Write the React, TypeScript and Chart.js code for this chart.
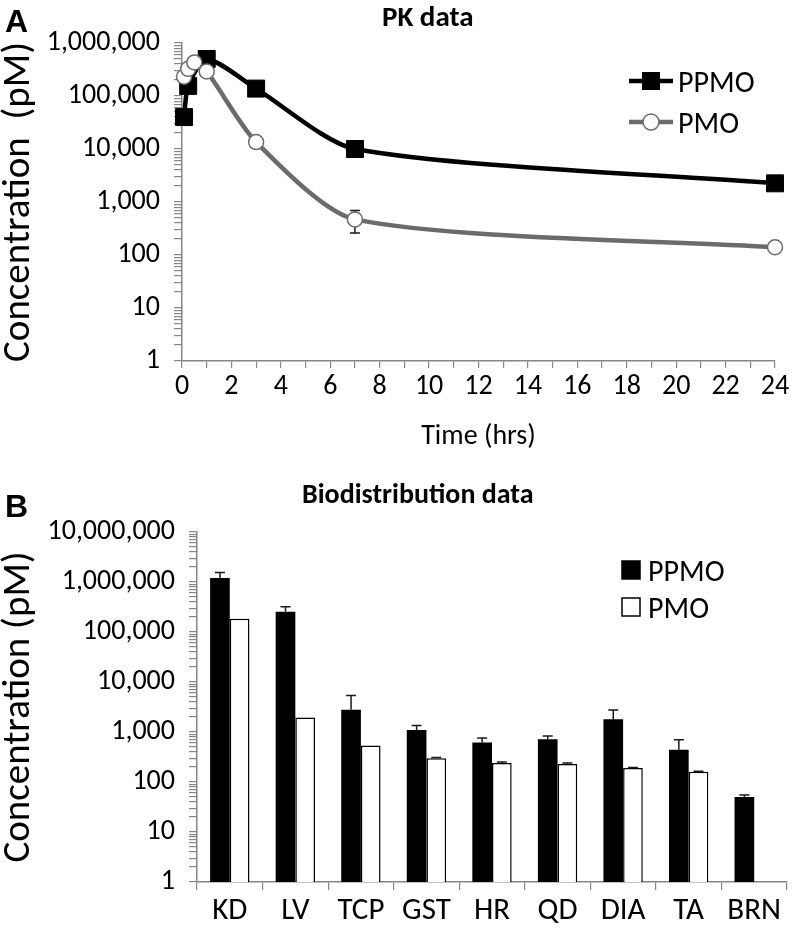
import React, { useEffect, useRef } from 'react';
import { Chart, registerables } from 'chart.js';

Chart.register(...registerables);

const FONT = 'Carlito, Lato, sans-serif';

// ---- Panel A: PK data ----
const ppmoTimes = [0.083, 0.25, 1, 3, 7, 24];
const ppmoConc = [40000, 155000, 500000, 138000, 10000, 2250];
const pmoTimes = [0.083, 0.25, 0.5, 1, 3, 7, 24];
const pmoConc = [232000, 325000, 430000, 290000, 13500, 470, 140];
const pmoErrHigh = [null, null, null, null, null, 690, null];
const pmoErrLow = [null, null, null, null, null, 260, null];
const pkDecades = [1, 10, 100, 1000, 10000, 100000, 1000000];
const timeTicks = [0, 2, 4, 6, 8, 10, 12, 14, 16, 18, 20, 22, 24];

// ---- Panel B: Biodistribution data ----
const tissues = ['KD', 'LV', 'TCP', 'GST', 'HR', 'QD', 'DIA', 'TA', 'BRN'];
const ppmoTissue = [1200000, 255000, 2800, 1100, 620, 720, 1800, 440, 50];
const ppmoTissueErr = [1550000, 320000, 5400, 1350, 760, 830, 2750, 700, 55];
const pmoTissue = [185000, 1950, 540, 300, 240, 230, 190, 160, null];
const pmoTissueErr = [null, null, null, 310, 250, 240, 195, 165, null];
const bioDecades = [1, 10, 100, 1000, 10000, 100000, 1000000, 10000000];

const AXIS_GREY = '#868686';
const PMO_GREY = '#6b6b6b';

function logTickValues(decades: number[]) {
  const out: number[] = [];
  for (let i = 0; i < decades.length; i++) {
    out.push(decades[i]);
    if (i < decades.length - 1) {
      for (let m = 2; m <= 9; m++) out.push(decades[i] * m);
    }
  }
  return out;
}

function makeErrorBarPlugin(id: string, phase: 'beforeDatasetsDraw' | 'afterDatasetsDraw', cap: number) {
  return {
    id,
    [phase]: (chart: any) => {
      const ctx = chart.ctx;
      const ys = chart.scales.y;
      ctx.save();
      ctx.strokeStyle = '#1a1a1a';
      ctx.lineWidth = 1.5;
      chart.data.datasets.forEach((ds: any, di: number) => {
        const meta = chart.getDatasetMeta(di);
        meta.data.forEach((el: any, i: number) => {
          const raw = ds.data[i];
          const v = raw == null ? null : typeof raw === 'object' ? raw.y : raw;
          if (v == null) return;
          const y0 = ys.getPixelForValue(v);
          const x = el.x;
          const draw = (val: number | null) => {
            if (val == null) return;
            const y1 = ys.getPixelForValue(val);
            ctx.beginPath();
            ctx.moveTo(x, y0);
            ctx.lineTo(x, y1);
            ctx.moveTo(x - cap / 2, y1);
            ctx.lineTo(x + cap / 2, y1);
            ctx.stroke();
          };
          if (ds.errHigh) draw(ds.errHigh[i]);
          if (ds.errLow) draw(ds.errLow[i]);
        });
      });
      ctx.restore();
    },
  };
}

function makeTextPlugin(id: string, items: { text: string; x: number; y: number; font: string; align?: CanvasTextAlign }[]) {
  return {
    id,
    afterDraw: (chart: any) => {
      const ctx = chart.ctx;
      ctx.save();
      ctx.fillStyle = '#000';
      ctx.textBaseline = 'alphabetic';
      items.forEach((it) => {
        ctx.font = it.font;
        ctx.textAlign = it.align || 'left';
        ctx.fillText(it.text, it.x, it.y);
      });
      ctx.restore();
    },
  };
}

function makeLineLegend(rows: number[], x0: number, x1: number, textX: number, textOffset: number) {
  return {
    id: 'lineLegend',
    afterDraw: (chart: any) => {
      const ctx = chart.ctx;
      ctx.save();
      chart.data.datasets.forEach((ds: any, i: number) => {
        const y = rows[i];
        const cx = (x0 + x1) / 2;
        ctx.strokeStyle = ds.borderColor;
        ctx.lineWidth = ds.borderWidth;
        ctx.beginPath();
        ctx.moveTo(x0, y);
        ctx.lineTo(x1, y);
        ctx.stroke();
        ctx.fillStyle = ds.pointBackgroundColor;
        ctx.strokeStyle = ds.pointBorderColor;
        ctx.lineWidth = ds.pointBorderWidth;
        if (ds.pointStyle === 'rect') {
          const s = 9;
          ctx.fillRect(cx - s, y - s, 2 * s, 2 * s);
        } else {
          ctx.beginPath();
          ctx.arc(cx, y, 8, 0, Math.PI * 2);
          ctx.fill();
          ctx.stroke();
        }
        ctx.fillStyle = '#000';
        ctx.font = `30px ${FONT}`;
        ctx.textAlign = 'left';
        ctx.textBaseline = 'alphabetic';
        ctx.fillText(ds.label, textX, y + textOffset);
      });
      ctx.restore();
    },
  };
}

function makeBarLegend(rows: number[], x0: number, size: number, textX: number, textOffset: number) {
  return {
    id: 'barLegend',
    afterDraw: (chart: any) => {
      const ctx = chart.ctx;
      ctx.save();
      chart.data.datasets.forEach((ds: any, i: number) => {
        const y = rows[i];
        ctx.fillStyle = ds.backgroundColor;
        ctx.fillRect(x0, y - size / 2, size, size);
        ctx.strokeStyle = '#000';
        ctx.lineWidth = 1.5;
        ctx.strokeRect(x0, y - size / 2, size, size);
        ctx.fillStyle = '#000';
        ctx.font = `30px ${FONT}`;
        ctx.textAlign = 'left';
        ctx.textBaseline = 'alphabetic';
        ctx.fillText(ds.label, textX, y + textOffset);
      });
      ctx.restore();
    },
  };
}

function logAxis(decades: number[], title: string, width: number) {
  return {
    type: 'logarithmic' as const,
    min: decades[0],
    max: decades[decades.length - 1],
    afterFit: (s: any) => {
      s.width = width;
    },
    afterBuildTicks: (s: any) => {
      s.ticks = logTickValues(decades).map((v) => ({ value: v }));
    },
    ticks: {
      autoSkip: false,
      padding: 14,
      color: '#000',
      font: { family: FONT, size: 28 },
      callback: (v: any) => (decades.includes(Number(v)) ? Number(v).toLocaleString('en-US') : ''),
    },
    grid: {
      drawOnChartArea: false,
      drawTicks: true,
      tickLength: 8,
      color: AXIS_GREY,
      lineWidth: 1.2,
    },
    border: { color: AXIS_GREY, width: 1.5 },
    title: {
      display: true,
      text: title,
      color: '#000',
      font: { family: FONT, size: 39, lineHeight: 1 },
      padding: { top: 0, bottom: 0 },
    },
  };
}

export default function App() {
  const topRef = useRef<HTMLCanvasElement>(null);
  const botRef = useRef<HTMLCanvasElement>(null);

  useEffect(() => {
    Chart.defaults.font.family = FONT;
    Chart.defaults.color = '#000';

    const top = new Chart(topRef.current as HTMLCanvasElement, {
      type: 'line',
      data: {
        datasets: [
          {
            label: 'PPMO',
            data: ppmoTimes.map((t, i) => ({ x: t, y: ppmoConc[i] })),
            borderColor: '#000',
            backgroundColor: '#000',
            borderWidth: 4.5,
            pointStyle: 'rect',
            pointRadius: 12,
            pointBackgroundColor: '#000',
            pointBorderColor: '#000',
            pointBorderWidth: 1,
            tension: 0.25,
            clip: false,
            order: 1,
          } as any,
          {
            label: 'PMO',
            data: pmoTimes.map((t, i) => ({ x: t, y: pmoConc[i] })),
            errHigh: pmoErrHigh,
            errLow: pmoErrLow,
            borderColor: PMO_GREY,
            backgroundColor: '#fff',
            borderWidth: 4.5,
            pointStyle: 'circle',
            pointRadius: 7.5,
            pointBackgroundColor: '#fff',
            pointBorderColor: PMO_GREY,
            pointBorderWidth: 1.5,
            tension: 0.25,
            clip: false,
            order: 0,
          } as any,
        ],
      },
      options: {
        animation: false,
        responsive: false,
        events: [],
        layout: { padding: { top: 43, right: 17, left: 0, bottom: 0 } },
        plugins: { legend: { display: false }, title: { display: false }, tooltip: { enabled: false } },
        scales: {
          x: {
            type: 'linear',
            min: 0,
            max: 24,
            afterFit: (s: any) => {
              s.height = 104;
            },
            afterBuildTicks: (s: any) => {
              const vals: number[] = [];
              for (let v = 0; v <= 24; v++) vals.push(v);
              s.ticks = vals.map((v) => ({ value: v }));
            },
            ticks: {
              autoSkip: false,
              maxRotation: 0,
              padding: 2,
              color: '#000',
              font: { family: FONT, size: 28 },
              callback: (v: any) => (timeTicks.includes(Number(v)) ? String(v) : ''),
            },
            grid: { drawOnChartArea: false, drawTicks: true, tickLength: 7, color: AXIS_GREY, lineWidth: 1.2 },
            border: { color: AXIS_GREY, width: 1.5 },
            title: {
              display: true,
              text: 'Time (hrs)',
              color: '#000',
              font: { family: FONT, size: 28 },
              padding: { top: 0, bottom: 11 },
            },
          },
          y: logAxis(pkDecades, 'Concentration  (pM)', 182) as any,
        },
      },
      plugins: [
        makeErrorBarPlugin('pkErr', 'beforeDatasetsDraw', 10) as any,
        makeLineLegend([81, 122], 629, 673, 678, 11) as any,
        makeTextPlugin('pkText', [
          { text: 'A', x: 5, y: 32, font: `bold 32px "Liberation Sans", Arial, sans-serif` },
          { text: 'PK data', x: 382, y: 26, font: `bold 29px ${FONT}` },
        ]) as any,
      ],
    });

    const bot = new Chart(botRef.current as HTMLCanvasElement, {
      type: 'bar',
      data: {
        labels: tissues,
        datasets: [
          {
            label: 'PPMO',
            data: ppmoTissue,
            errHigh: ppmoTissueErr,
            backgroundColor: '#000',
            borderColor: '#000',
            borderWidth: 0,
            categoryPercentage: 0.6,
            barPercentage: 1.0,
          } as any,
          {
            label: 'PMO',
            data: pmoTissue,
            errHigh: pmoTissueErr,
            backgroundColor: '#fff',
            borderColor: '#000',
            borderWidth: 1.5,
            categoryPercentage: 0.6,
            barPercentage: 1.0,
          } as any,
        ],
      },
      options: {
        animation: false,
        responsive: false,
        events: [],
        layout: { padding: { top: 67, right: 5, left: 0, bottom: 0 } },
        plugins: { legend: { display: false }, title: { display: false }, tooltip: { enabled: false } },
        scales: {
          x: {
            afterFit: (s: any) => {
              s.height = 49;
            },
            ticks: {
              autoSkip: false,
              maxRotation: 0,
              padding: 3,
              color: '#000',
              font: { family: FONT, size: 31 },
            },
            grid: { offset: true, drawOnChartArea: false, drawTicks: true, tickLength: 8, color: AXIS_GREY, lineWidth: 1.2 },
            border: { color: AXIS_GREY, width: 1.5 },
          },
          y: logAxis(bioDecades, 'Concentration (pM)', 197) as any,
        },
      },
      plugins: [
        makeErrorBarPlugin('bioErr', 'afterDatasetsDraw', 10) as any,
        makeBarLegend([105, 142], 622, 18, 648, 11) as any,
        makeTextPlugin('bioText', [
          { text: 'B', x: 5, y: 52, font: `bold 32px "Liberation Sans", Arial, sans-serif` },
          { text: 'Biodistribution data', x: 302, y: 38, font: `bold 28px ${FONT}` },
        ]) as any,
      ],
    });

    return () => {
      top.destroy();
      bot.destroy();
    };
  }, []);

  return (
    <div style={{ position: 'absolute', left: 0, top: 0, width: 792, height: 931, background: '#fff' }}>
      <canvas ref={topRef} width={792} height={465} style={{ position: 'absolute', left: 0, top: 0 }} />
      <canvas ref={botRef} width={792} height={466} style={{ position: 'absolute', left: 0, top: 465 }} />
    </div>
  );
}
